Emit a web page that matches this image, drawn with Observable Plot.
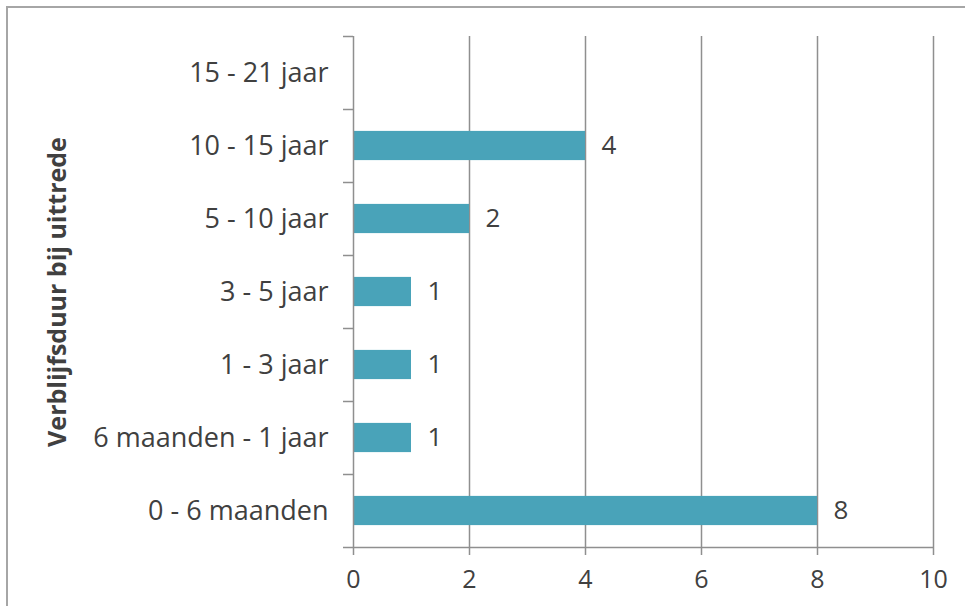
<!DOCTYPE html>
<html>
<head>
<meta charset="utf-8">
<script src="https://cdn.jsdelivr.net/npm/d3@7"></script>
<script src="https://cdn.jsdelivr.net/npm/@observablehq/plot@0.6"></script>
<style>
  html, body { margin: 0; padding: 0; background: #fff; overflow: hidden; }
  #wrap { position: relative; width: 965px; height: 606px; }
  #frame { position: absolute; left: 6px; top: 6px; right: -20px; bottom: -20px;
           border-left: 2px solid #a6a6a6; border-top: 2px solid #a6a6a6; pointer-events: none; }
  svg { display: block; }
</style>
</head>
<body>
<div id="wrap"><div id="frame"></div></div>
<script>
// Categories from bottom to top
const categories = ["0 - 6 maanden", "6 maanden - 1 jaar", "1 - 3 jaar", "3 - 5 jaar", "5 - 10 jaar", "10 - 15 jaar", "15 - 21 jaar"];
const values = [8, 1, 1, 1, 2, 4, 0];
const xTicks = [0, 2, 4, 6, 8, 10];
const yTitle = "Verblijfsduur bij uittrede";

const data = categories.map((c, i) => ({category: c, i, value: values[i]}));
const font = "'Open Sans', 'Century Gothic', sans-serif";
const textColor = "#404040";
const gridColor = "#8f8f8f";
const barColor = "#49A3B9";

const chart = Plot.plot({
  width: 965,
  height: 606,
  marginLeft: 353,
  marginRight: 32,
  marginTop: 36,
  marginBottom: 59,
  style: {fontFamily: font, color: textColor, background: "transparent"},
  x: {domain: [0, 10]},
  y: {domain: [0, categories.length]},
  marks: [
    Plot.ruleX(xTicks.filter(d => d > 0), {stroke: gridColor, strokeWidth: 1.5}),
    Plot.rectX(data, {x1: 0, x2: "value", y1: d => d.i + 0.3, y2: d => d.i + 0.7, fill: barColor}),
    Plot.ruleX([0], {stroke: gridColor, strokeWidth: 1.5}),
    Plot.ruleY([0], {stroke: gridColor, strokeWidth: 1.5}),
    Plot.axisX({ticks: xTicks, tickSize: 8, tickPadding: 15, fontSize: 25, stroke: gridColor, strokeWidth: 1.5, label: null, tickFormat: d => String(d)}),
    Plot.axisY({ticks: d3.range(0, categories.length + 1), tickSize: 10, stroke: gridColor, strokeWidth: 1.5, tickFormat: () => "", label: null}),
    Plot.axisY({ticks: categories.map((c, i) => i + 0.5), tickSize: 0, tickPadding: 25, fontSize: 27, tickFormat: d => categories[Math.floor(d)], label: null}),
    Plot.text(data.filter(d => d.value > 0), {x: "value", y: d => d.i + 0.5, text: d => String(d.value), textAnchor: "start", dx: 16, fontSize: 26, fill: textColor}),
    Plot.text([yTitle], {frameAnchor: "left", textAnchor: "middle", rotate: -90, dx: -296, fontSize: 25, fontWeight: "bold", fill: textColor})
  ]
});
document.getElementById("wrap").insertBefore(chart, document.getElementById("frame"));
</script>
</body>
</html>
